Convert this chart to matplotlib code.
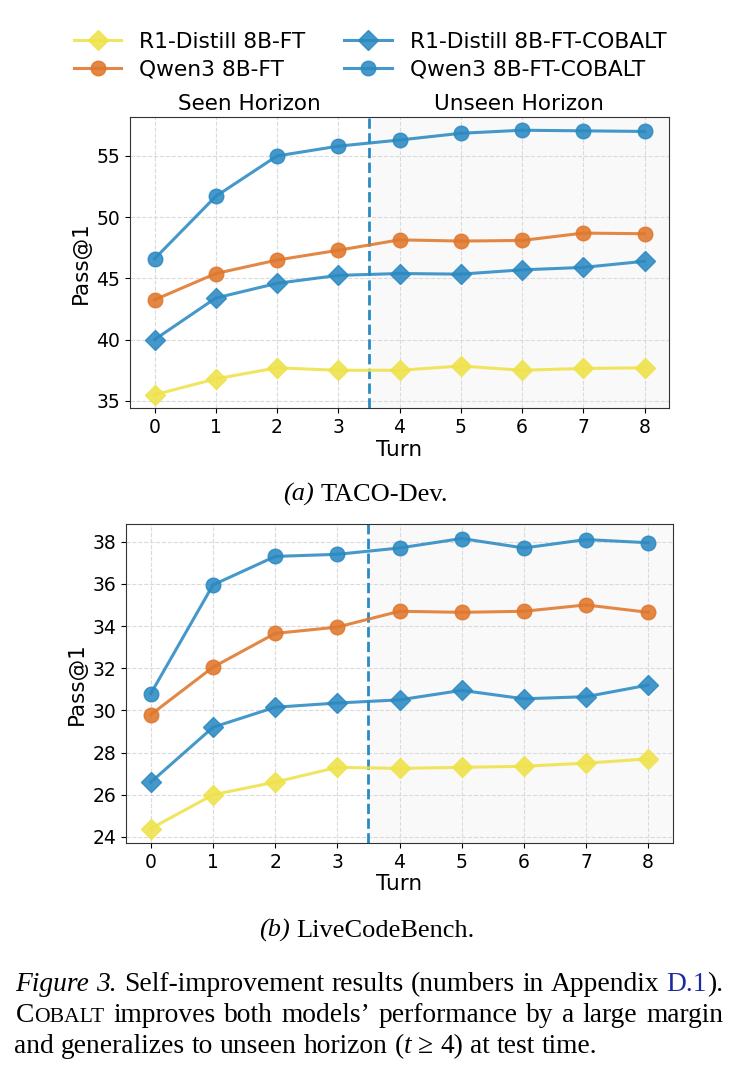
import matplotlib
matplotlib.use("Agg")
import matplotlib.pyplot as plt
import numpy as np

W, H = 740, 1072

turns = np.arange(9)

taco_r1_ft = [35.5, 36.8, 37.7, 37.5, 37.5, 37.85, 37.5, 37.65, 37.7]
taco_qwen_ft = [43.25, 45.4, 46.5, 47.3, 48.15, 48.05, 48.1, 48.7, 48.65]
taco_r1_cobalt = [40.0, 43.4, 44.6, 45.25, 45.4, 45.35, 45.7, 45.9, 46.4]
taco_qwen_cobalt = [46.6, 51.7, 55.0, 55.8, 56.3, 56.85, 57.1, 57.05, 57.0]

lcb_r1_ft = [24.4, 26.0, 26.6, 27.3, 27.25, 27.3, 27.35, 27.5, 27.7]
lcb_qwen_ft = [29.8, 32.05, 33.65, 33.95, 34.7, 34.65, 34.7, 35.0, 34.65]
lcb_r1_cobalt = [26.6, 29.2, 30.15, 30.35, 30.5, 30.95, 30.55, 30.65, 31.2]
lcb_qwen_cobalt = [30.8, 35.95, 37.3, 37.4, 37.7, 38.15, 37.7, 38.1, 37.95]

labels = ["R1-Distill 8B-FT", "Qwen3 8B-FT", "R1-Distill 8B-FT-COBALT", "Qwen3 8B-FT-COBALT"]
colors = ["#efe24a", "#e0772c", "#2b8ac2", "#2b8ac2"]
markers = ["D", "o", "D", "o"]

fig = plt.figure(figsize=(W / 100, H / 100), dpi=100)


def px_axes(l, t, r, b):
    return fig.add_axes([l / W, 1 - b / H, (r - l) / W, (b - t) / H])


def draw_panel(ax, series):
    for ys, c, m, lab in zip(series, colors, markers, labels):
        ax.plot(turns, ys, color=c, marker=m, markersize=10.5,
                linewidth=2.2, alpha=0.88, label=lab, zorder=3)
    lo, hi = ax.get_xlim()
    ax.axvspan(3.5, hi + 1, color="#f9f9f9", zorder=0)
    ax.set_xlim(lo, hi)
    ax.axvline(3.5, color="#2b8ac2", linestyle="--", linewidth=2, zorder=2)
    ax.grid(True, linestyle="--", color="#dadada", linewidth=0.8)
    ax.set_axisbelow(True)
    ax.set_xticks(turns)
    ax.tick_params(labelsize=13.5)
    ax.set_xlabel("Turn", fontsize=15.5, labelpad=2)
    ax.set_ylabel("Pass@1", fontsize=15.5)
    for s in ax.spines.values():
        s.set_color("#333333")


ax1 = px_axes(130, 117, 669, 408)
draw_panel(ax1, [taco_r1_ft, taco_qwen_ft, taco_r1_cobalt, taco_qwen_cobalt])
ax1.text(1.55, 1.01, "Seen Horizon", transform=ax1.get_xaxis_transform(),
         ha="center", va="bottom", fontsize=15.5)
ax1.text(5.95, 1.01, "Unseen Horizon", transform=ax1.get_xaxis_transform(),
         ha="center", va="bottom", fontsize=15.5)

ax2 = px_axes(126, 524, 673, 843)
draw_panel(ax2, [lcb_r1_ft, lcb_qwen_ft, lcb_r1_cobalt, lcb_qwen_cobalt])

handles, hl = ax1.get_legend_handles_labels()
fig.legend(handles, hl, loc="upper center", ncol=2, frameon=False, fontsize=15.7,
           bbox_to_anchor=(0.5, 1 - 12 / H), columnspacing=1.8, handlelength=2.2,
           labelspacing=0.38)

# caption text, laid out word by word
serif = "Liberation Serif"
fs = 19.8
rend = fig.canvas.get_renderer()


def put_line(words, y, x0=None, x1=None, center=None, size=fs):
    objs = []
    for w in words:
        pcs = []
        for s, kw in w:
            kw = dict(kw)
            kw.setdefault("fontsize", size)
            pcs.append(fig.text(0, 1 - y / H, s, ha="left", va="baseline",
                                family=serif, **kw))
        objs.append(pcs)
    widths = [[t.get_window_extent(rend).width for t in pcs] for pcs in objs]
    tot = sum(sum(ws) for ws in widths)
    space = 0.25 * size * 100 / 72
    if x1 is not None and len(words) > 1:
        gap = (x1 - x0 - tot) / (len(words) - 1)
    else:
        gap = space
    if center is not None:
        x0 = center - (tot + gap * (len(words) - 1)) / 2
    x = x0
    for pcs, ws in zip(objs, widths):
        for t, wd in zip(pcs, ws):
            t.set_x(x / W)
            x += wd
        x += gap


N = {}
IT = {"style": "italic"}
BL = {"color": "#1c2a9c"}


def ws(text, kw=N):
    return [[(w, kw)] for w in text.split()]


put_line([[("(a)", IT)]] + ws("TACO-Dev."), 501, center=366, size=19)
put_line([[("(b)", IT)]] + ws("LiveCodeBench."), 937, center=367, size=19)

line1 = ws("Figure 3.", IT) + ws("Self-improvement results (numbers in Appendix") + [[("D.1", BL), (").", N)]]
put_line(line1, 991, x0=15, x1=723)
line2 = [[("C", N), ("OBALT", {"fontsize": 15.6})]] + ws("improves both models’ performance by a large margin")
put_line(line2, 1022, x0=16, x1=723)
line3 = ws("and generalizes to unseen horizon") + [[("(", N), ("t", IT)]] + ws("≥ 4) at test time.")
put_line(line3, 1053, x0=14)

fig.savefig("out.png", dpi=100)
